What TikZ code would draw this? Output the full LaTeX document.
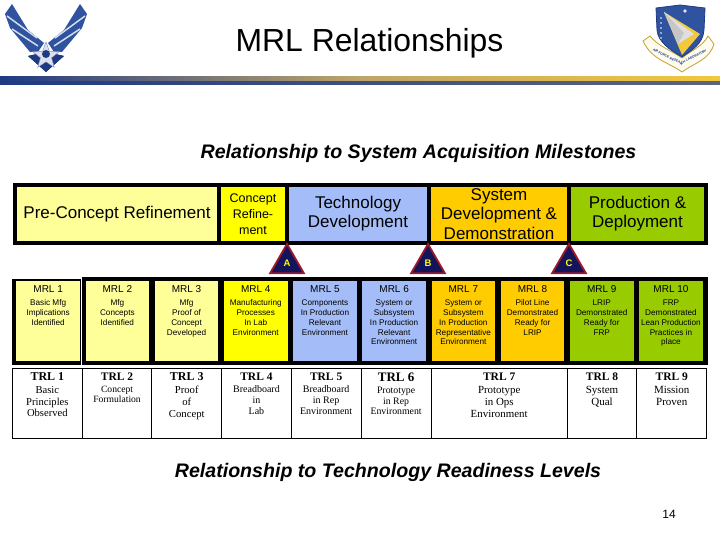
\documentclass[tikz,border=0pt]{standalone}
\usepackage{fontspec}
\setmainfont{Liberation Sans}
\newfontfamily\trlfont{Liberation Serif}
\usetikzlibrary{
  positioning,
  shapes.geometric,
  decorations.text
}
\definecolor{mrlpale}{HTML}{FFFF99}
\definecolor{mrlyellow}{HTML}{FFFF00}
\definecolor{mrlblue}{HTML}{A4BDF8}
\definecolor{mrlorange}{HTML}{FFCC00}
\definecolor{mrlgreen}{HTML}{99CC00}
\definecolor{afnavy}{HTML}{1F3A84}
\definecolor{afblue}{HTML}{2F539F}
\definecolor{afgold}{HTML}{F2C83C}
\newcommand{\mrltext}[2]{\parbox[c][80pt][t]{63.7pt}{\centering\vspace{4.5pt}\fontsize{10}{12}\selectfont #1\\[3.5pt]\fontsize{8.2}{9.8}\selectfont #2}}
\newcommand{\trltext}[5][69.7pt]{\parbox[c][70pt][t]{#1}{\centering\vspace{5pt}\fontsize{#2}{12}\selectfont\bfseries #4\\[1pt]\fontsize{#3}{#3}\selectfont\baselineskip=1.1\baselineskip\mdseries #5}}

\begin{document}
\begin{tikzpicture}[
            x=1pt,
            y=-1pt,
            node distance=4pt,
            phase/.style={rectangle, inner sep=0pt, outer sep=0pt, minimum height=54pt, align=center, text=black, font=\fontsize{17}{19.2}\selectfont},
            mrlcell/.style={rectangle, inner sep=0pt, outer sep=0pt, minimum width=63.7pt, minimum height=80pt, text=black},
            trlcell/.style={rectangle, inner sep=0pt, outer sep=0pt, minimum height=70pt, draw=black, line width=0.9pt, font=\trlfont},
            milestone/.style={regular polygon, regular polygon sides=3, inner sep=0pt, minimum size=39pt, draw={rgb,255:red,160;green,24;blue,42}, line width=1.8pt, fill={rgb,255:red,20;green,20;blue,90}, text=mrlyellow, font=\fontsize{9.5}{11}\selectfont\bfseries},
            heading/.style={font=\fontsize{19.6}{22}\selectfont\bfseries\itshape}
        ]
        \path[use as bounding box] (0,0) rectangle (720,540);

        % Rule under the title
        \shade[left color=afnavy, right color=afgold, middle color={rgb,255:red,190;green,165;blue,105}] (0,77) rectangle (720,82);
        \shade[left color=afnavy, right color={rgb,255:red,95;green,100;blue,125}] (0,82) rectangle (720,85);

        % Left emblem
        \foreach \side in {1,-1} {
          \begin{scope}[shift={(46,0)}, xscale=\side]
            \fill[afblue] (-34,4) -- (-41,14) -- (-36,28) -- (-16,52) -- (-8,52) -- (-2,43) -- (-18,30) -- cycle;
            \draw[white!80!afblue, line width=1.5pt] (-39,16) -- (-9,38);
            \draw[white!80!afblue, line width=1.5pt] (-34,29) -- (-8,46);
            \fill[afnavy] (-18,56) -- (0,72) -- (18,56) -- (9,54) -- (0,60) -- (-9,54) -- cycle;
          \end{scope}
        }
        \node (emblem_star) [star, star points=5, star point ratio=2.4, fill=white!85!afnavy, draw=afnavy!60, inner sep=0pt, minimum size=28pt] at (46,56) {};
        \fill[afnavy] (46,54) circle (4);

        % Right shield
        \fill[white!92!afgold, draw=afgold!80!black, line width=0.8pt]
            (643,41) .. controls (652,60) and (668,62) .. (682,72) .. controls (696,62) and (709,60) .. (714,44) -- (708,36) .. controls (703,46) and (692,50) .. (682,58) .. controls (670,50) and (658,46) .. (650,36) -- cycle;
        \path[decorate, decoration={text along path, text align=center, text={|\fontsize{3.3}{4}\selectfont\bfseries\color{afnavy}|AIR FORCE RESEARCH LABORATORY}}]
            (648,46) .. controls (658,56) and (670,58) .. (681,65) .. controls (692,58) and (704,56) .. (711,46);
        \fill[afblue, draw=afnavy, line width=0.8pt] (656,8) -- (680,5) -- (705,8) -- (704,30) .. controls (703,44) and (692,50) .. (682,57) .. controls (670,50) and (658,42) .. (657,30) -- cycle;
        \fill[afgold] (664,12) -- (700,34) -- (682,55) -- cycle;
        \fill[white!75!gray] (664,12) -- (694,34) -- (678,44) -- cycle;
        \fill[white!55!gray] (664,12) -- (684,33) -- (678,44) -- cycle;
        \foreach \stary in {18,23,28,33,38} {
          \fill[white] (661,\stary) circle (0.9);
        }
        \fill[white!85!afblue] (685,11) circle (1.8);

        % Titles
        \node (title) at (369.5,43) {\fontsize{31.9}{36}\selectfont MRL Relationships};
        \node (milestones_head) [heading] at (418.5,153) {Relationship to System Acquisition Milestones};
        \node (readiness_head) [heading] at (388,472.5) {Relationship to Technology Readiness Levels};
        \node (page_no) at (669,514) {\fontsize{12}{14}\selectfont 14};

        % Acquisition phases
        \fill[black] (13,183) rectangle (708,244.5);
        \node (pre_concept) [phase, fill=mrlpale, minimum width=200pt, anchor=west] at (17,214) {Pre-Concept Refinement};
        \node (concept) [phase, fill=mrlyellow, minimum width=64pt, right=of pre_concept, font=\fontsize{12.5}{16}\selectfont] {Concept\\Refine-\\ment};
        \node (tech_dev) [phase, fill=mrlblue, minimum width=138pt, right=of concept] {Technology\\Development};
        \node (sys_dev) [phase, fill=mrlorange, minimum width=136pt, right=of tech_dev] {System\\Development \&\\Demonstration};
        \node (production) [phase, fill=mrlgreen, minimum width=133pt, right=of sys_dev] {Production \&\\Deployment};

        % Milestones
        \node (ms_a) [milestone] at (287,263.5) {A};
        \node (ms_b) [milestone] at (428,263.5) {B};
        \node (ms_c) [milestone] at (569,263.5) {C};

        % MRL row
        \fill[black] (12,279) rectangle (81,364.5);
        \fill[black] (82,277) rectangle (708,364.5);
        \node (mrl_1) [mrlcell, fill=mrlpale, anchor=west] at (16.3,321) {\mrltext{MRL 1}{Basic Mfg\\Implications\\Identified}};
        \node (mrl_2) [mrlcell, fill=mrlpale, right=5.5pt of mrl_1] {\mrltext{MRL 2}{Mfg\\Concepts\\Identified}};
        \node (mrl_3) [mrlcell, fill=mrlpale, right=5.5pt of mrl_2] {\mrltext{MRL 3}{Mfg\\Proof of\\Concept\\Developed}};
        \node (mrl_4) [mrlcell, fill=mrlyellow, right=5.5pt of mrl_3] {\mrltext{MRL 4}{Manufacturing\\Processes\\In Lab\\Environment}};
        \node (mrl_5) [mrlcell, fill=mrlblue, right=5.5pt of mrl_4] {\mrltext{MRL 5}{Components\\In Production\\Relevant\\Environment}};
        \node (mrl_6) [mrlcell, fill=mrlblue, right=5.5pt of mrl_5] {\mrltext{MRL 6}{System or\\Subsystem\\In Production\\Relevant\\Environment}};
        \node (mrl_7) [mrlcell, fill=mrlorange, right=5.5pt of mrl_6] {\mrltext{MRL 7}{System or\\Subsystem\\In Production\\Representative\\Environment}};
        \node (mrl_8) [mrlcell, fill=mrlorange, right=5.5pt of mrl_7] {\mrltext{MRL 8}{Pilot Line\\Demonstrated\\Ready for\\LRIP}};
        \node (mrl_9) [mrlcell, fill=mrlgreen, right=5.5pt of mrl_8] {\mrltext{MRL 9}{LRIP\\Demonstrated\\Ready for\\FRP}};
        \node (mrl_10) [mrlcell, fill=mrlgreen, right=5.5pt of mrl_9] {\mrltext{MRL 10}{FRP\\Demonstrated\\Lean Production\\Practices in\\place}};

        % TRL row
        \node (trl_1) [trlcell, anchor=west] at (12.5,403) {\trltext{12}{10.6}{TRL 1}{Basic\\Principles\\Observed}};
        \node (trl_2) [trlcell, right=0pt of trl_1] {\trltext{11.5}{9.6}{TRL 2}{Concept\\Formulation}};
        \node (trl_3) [trlcell, right=0pt of trl_2] {\trltext{12}{10.7}{TRL 3}{Proof\\of\\Concept}};
        \node (trl_4) [trlcell, right=0pt of trl_3] {\trltext{11.5}{10}{TRL 4}{Breadboard\\in\\Lab}};
        \node (trl_5) [trlcell, right=0pt of trl_4] {\trltext{11.5}{10}{TRL 5}{Breadboard\\in Rep\\Environment}};
        \node (trl_6) [trlcell, right=0pt of trl_5] {\trltext[70.2pt]{13}{9.8}{TRL 6}{Prototype\\in Rep\\Environment}};
        \node (trl_7) [trlcell, right=0pt of trl_6] {\trltext[136pt]{11.5}{10.9}{TRL 7}{Prototype\\in Ops\\Environment}};
        \node (trl_8) [trlcell, right=0pt of trl_7] {\trltext{11.5}{11}{TRL 8}{System\\Qual}};
        \node (trl_9) [trlcell, right=0pt of trl_8] {\trltext{11.5}{11}{TRL 9}{Mission\\Proven}};

    \end{tikzpicture}
\end{document}
